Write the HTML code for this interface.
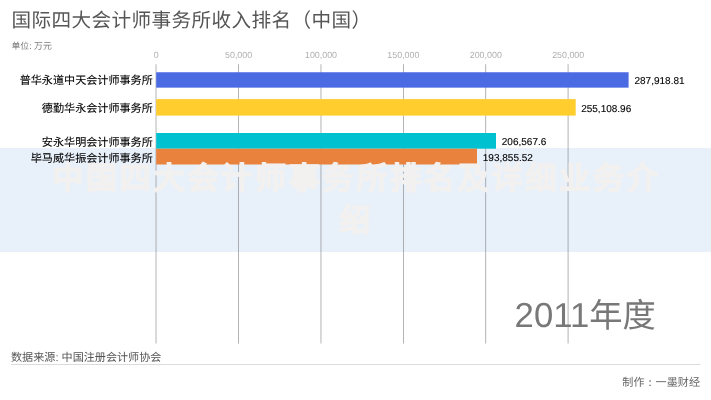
<!DOCTYPE html>
<html lang="zh-CN">
<head>
<meta charset="utf-8">
<title>国际四大会计师事务所收入排名（中国）</title>
<style>
html,body{margin:0;padding:0;background:#fff;}
body{width:711px;height:400px;position:relative;overflow:hidden;font-family:"Liberation Sans",sans-serif;color:#222;}
.abs{position:absolute;white-space:nowrap;}
#text{position:absolute;left:0;top:0;width:711px;height:400px;will-change:transform;text-rendering:geometricPrecision;}
#shapes{position:absolute;left:0;top:0;width:711px;height:400px;}
.title{left:11.5px;top:6.5px;font-size:19.6px;letter-spacing:0.4px;line-height:28px;color:#565656;}
.unit{left:11.4px;top:40.1px;font-size:8.9px;line-height:12px;color:#7c7c7c;}
.tick{top:48.6px;width:60px;margin-left:-30px;text-align:center;font-size:8.9px;line-height:12px;color:#b0b0b0;}
.cat{right:558.2px;font-size:11.1px;line-height:16px;color:#000;text-align:right;-webkit-text-stroke:0.1px #000;}
.val{font-size:10px;line-height:16px;color:#000;-webkit-text-stroke:0.12px #000;}
.year{left:514.6px;top:293.2px;font-size:33.3px;line-height:46px;color:#787878;}
.year b{font-weight:normal;font-size:34.7px;}
.src{left:11px;top:349.9px;font-size:11.1px;line-height:16px;color:#555;}
.maker{right:11.0px;top:375.2px;font-size:11.1px;line-height:16px;color:#666;text-align:right;}
.bandbg{position:absolute;left:0;top:148px;width:711px;height:103.5px;background:#e8f0fa;}
.band{position:absolute;left:0;top:148px;width:711px;height:103.5px;will-change:transform;text-rendering:geometricPrecision;}
.band p{margin:0 auto;width:624px;position:relative;left:0.9px;padding:9.75px 0 0 0;text-align:center;font-size:31px;line-height:42px;letter-spacing:2.8px;font-weight:bold;color:#f2f1f0;-webkit-text-stroke:1.1px #f2f1f0;filter:blur(0.75px);}
</style>
</head>
<body>
<div class="bandbg"></div>
<svg id="shapes" width="711" height="400" viewBox="0 0 711 400">
  <g fill="#787878">
    <rect x="155.742" y="64.2" width="0.556" height="279.3"/>
    <rect x="238.222" y="64.2" width="0.556" height="279.3"/>
    <rect x="320.702" y="64.2" width="0.556" height="279.3"/>
    <rect x="403.122" y="64.2" width="0.556" height="279.3"/>
    <rect x="485.522" y="64.2" width="0.556" height="279.3"/>
    <rect x="567.772" y="64.2" width="0.556" height="279.3"/>
  </g>
  <rect x="156.2" y="72.25" width="472.4" height="15.4" fill="#4b6be3"/>
  <rect x="156.2" y="99.1" width="419.5" height="16.5" fill="#ffcd2e"/>
  <rect x="156.2" y="133" width="339.8" height="15.7" fill="#00c1cf"/>
  <rect x="156.2" y="148.7" width="320.8" height="15.8" fill="#e8823c"/>
  <rect x="11" y="364.15" width="689.6" height="0.85" fill="#d6d6d6"/>
</svg>

<div id="text">
<div class="abs title">国际四大会计师事务所收入排名（中国）</div>
<div class="abs unit">单位: 万元</div>

<div class="abs tick" style="left:156.2px">0</div>
<div class="abs tick" style="left:238.6px">50,000</div>
<div class="abs tick" style="left:321.0px">100,000</div>
<div class="abs tick" style="left:403.4px">150,000</div>
<div class="abs tick" style="left:485.8px">200,000</div>
<div class="abs tick" style="left:568.2px">250,000</div>

<div class="abs cat" style="top:73.3px">普华永道中天会计师事务所</div>
<div class="abs cat" style="top:101.3px">德勤华永会计师事务所</div>
<div class="abs cat" style="top:134.6px">安永华明会计师事务所</div>
<div class="abs cat" style="top:150.6px">毕马威华振会计师事务所</div>

<div class="abs val" style="left:634.5px;top:74.4px">287,918.81</div>
<div class="abs val" style="left:581.2px;top:102px">255,108.96</div>
<div class="abs val" style="left:501.8px;top:134.9px">206,567.6</div>
<div class="abs val" style="left:482.8px;top:150.9px">193,855.52</div>

<div class="abs year"><b>2011</b>年度</div>

<div class="abs src">数据来源: 中国注册会计师协会</div>
<div class="abs maker">制作<span lang="ja">：</span>一墨财经</div>
</div>

<div class="band"><p>中国四大会计师事务所排名及详细业务介绍</p></div>
</body>
</html>
